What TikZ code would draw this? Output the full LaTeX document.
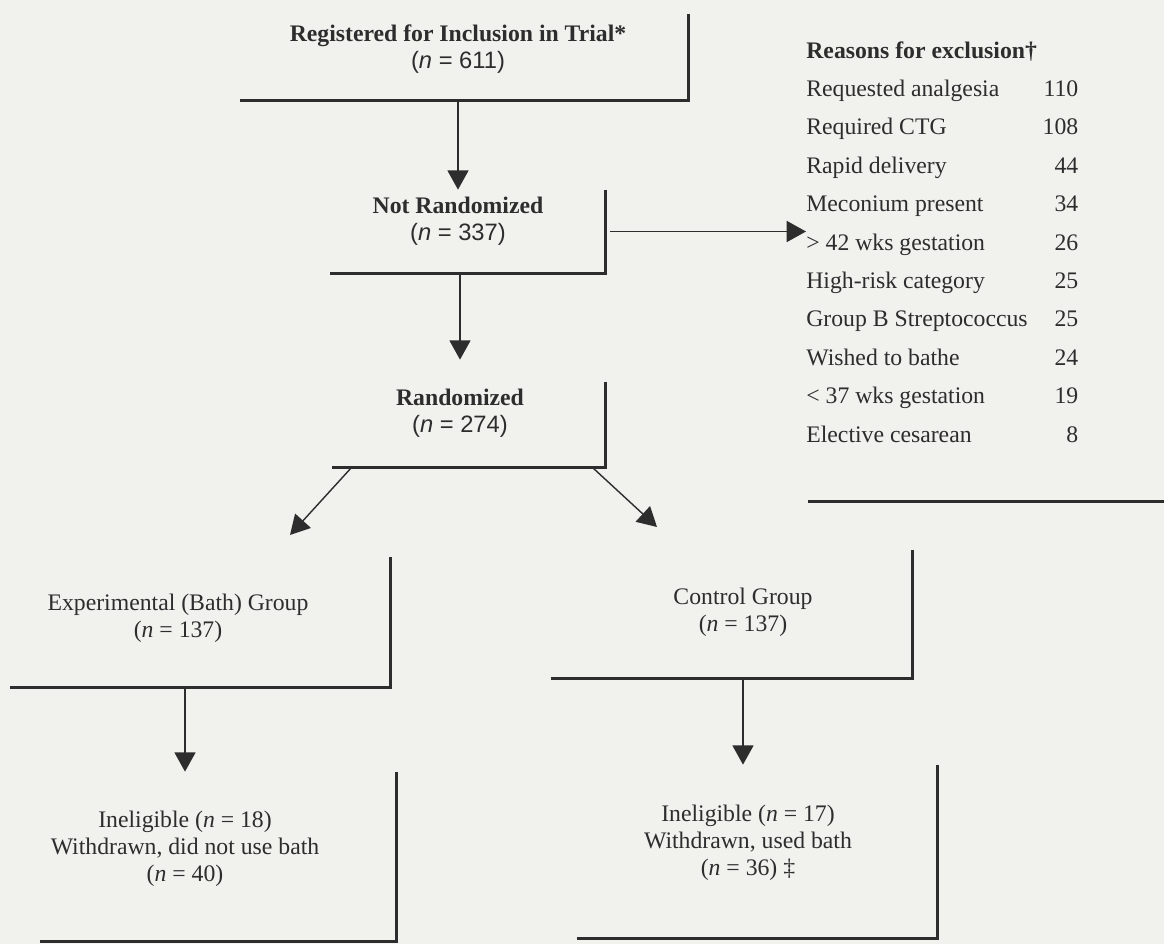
\documentclass[tikz,border=0pt]{standalone}
\usepackage{fontspec}
\setmainfont{Liberation Serif}
\setsansfont{Liberation Sans}
\usetikzlibrary{arrows.meta,fit,calc}
\definecolor{inkgray}{RGB}{45,45,45}
\definecolor{paper}{RGB}{241,241,238}

\begin{document}
\begin{tikzpicture}[x=0.02cm, y=-0.02cm, every node/.style={font=\fontsize{13.5}{15.5}\selectfont, text=inkgray}]
  \tikzset{
    frame/.style={inner sep=0pt, draw=none},
    edge/.style={inkgray, line width=1.7pt},
    arr/.style={-{Triangle[length=11pt,width=12pt]}, inkgray, line width=0.8pt},
    txt/.style={align=center, inner sep=0pt}
  }
  \useasboundingbox (0,0) rectangle (1164,944);
  \fill[paper] (0,0) rectangle (1164,944);
  % Frames (only right and bottom sides are drawn)
  \node[frame, fit={(240,14) (688,100)}] (reg) {};
  \node[frame, fit={(330,190) (605,273)}] (notrand) {};
  \node[frame, fit={(332,382) (605,467)}] (rand) {};
  \node[frame, fit={(10,557) (390,687)}] (exp) {};
  \node[frame, fit={(551,550) (912,678)}] (con) {};
  \node[frame, fit={(40,772) (396,941)}] (inelexp) {};
  \node[frame, fit={(577,765) (937,938)}] (inelcon) {};
  \node[frame, fit={(808,30) (1164,501)}] (excl) {};
  \foreach \b in {reg,notrand,rand,exp,con,inelexp,inelcon}
    \draw[edge] (\b.north east) -- (\b.south east) -- (\b.south west);
  \draw[edge] (excl.south west) -- (excl.south east);
  % Texts
  \node[txt] (regtxt) at (458,49) {\textbf{Registered for Inclusion in Trial*}\\\sffamily(\textit{n} = 611)};
  \node[txt] (notrandtxt) at (458,221) {\textbf{Not Randomized}\\\sffamily(\textit{n} = 337)};
  \node[txt] (randtxt) at (460,413) {\textbf{Randomized}\\\sffamily(\textit{n} = 274)};
  \node[txt] (exptxt) at (178,618) {Experimental (Bath) Group\\(\textit{n} = 137)};
  \node[txt] (contxt) at (743,612) {Control Group\\(\textit{n} = 137)};
  \node[txt] (inelexptxt) at (185,849) {Ineligible (\textit{n} = 18)\\Withdrawn, did not use bath\\(\textit{n} = 40)};
  \node[txt] (inelcontxt) at (748,843) {Ineligible (\textit{n} = 17)\\Withdrawn, used bath\\(\textit{n} = 36) \textdaggerdbl};
  % Reasons for exclusion
  \node[inner sep=0pt, anchor=west] (reasons) at (806,242.5) {\renewcommand{\arraystretch}{1.41}%
    \begin{tabular*}{5.44cm}{@{}l@{\extracolsep{\fill}}r@{}}
      \multicolumn{2}{@{}l@{}}{\textbf{Reasons for exclusion\textdagger}}\\
      Requested analgesia & 110\\
      Required CTG & 108\\
      Rapid delivery & 44\\
      Meconium present & 34\\
      > 42 wks gestation & 26\\
      High-risk category & 25\\
      Group B Streptococcus & 25\\
      Wished to bathe & 24\\
      < 37 wks gestation & 19\\
      Elective cesarean & 8
    \end{tabular*}};
  % Arrows
  \coordinate (expin) at (290,535);
  \coordinate (conin) at (657,527);
  \draw[arr] (regtxt |- reg.south) -- (regtxt |- notrand.north);
  \draw[arr] ([xshift=0.1cm]notrand.east) -- (notrand.east -| reasons.west);
  \draw[arr, shorten >=0.44cm] (randtxt |- notrand.south) -- (randtxt |- rand.north);
  \draw[arr] ([xshift=0.4cm]rand.south west) -- (expin);
  \draw[arr] ([xshift=-0.26cm]rand.south east) -- (conin);
  \draw[arr] (inelexptxt |- exp.south) -- (inelexptxt |- inelexp.north);
  \draw[arr] (contxt |- con.south) -- (contxt |- inelcon.north);
\end{tikzpicture}
\end{document}
